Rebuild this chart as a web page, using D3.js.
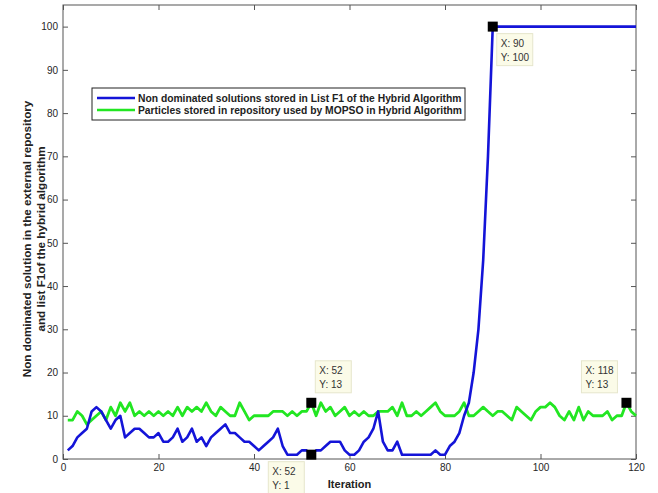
<!DOCTYPE html>
<html>
<head>
<meta charset="utf-8">
<script src="https://cdn.jsdelivr.net/npm/d3@7"></script>
<style>
  body { margin: 0; background: #fff; }
  svg { font-family: "Liberation Sans", Arial, sans-serif; }
  .axis text { font-size: 10px; fill: #262626; }
  .axis line, .axis path { stroke: #555; }
</style>
</head>
<body>
<svg id="chart"></svg>
<script>
// iteration numbers
const iterations = d3.range(1, 121);

// Non dominated solutions stored in List F1
const hybridF1 = [
  2, 3, 5, 6, 7, 11, 12, 11, 9, 7,
  9, 10, 5, 6, 7, 7, 6, 5, 5, 6,
  4, 4, 5, 7, 4, 5, 7, 4, 5, 3,
  5, 6, 7, 8, 6, 6, 5, 4, 4, 3,
  2, 3, 4, 5, 7, 3, 1, 1, 1, 2,
  2, 1, 2, 2, 3, 4, 4, 4, 2, 1,
  1, 2, 4, 5, 7, 11, 4, 2, 2, 4,
  1, 1, 1, 1, 1, 1, 1, 2, 1, 1,
  3, 4, 6, 10, 13, 20, 30, 46, 70, 100,
  100, 100, 100, 100, 100, 100, 100, 100, 100, 100,
  100, 100, 100, 100, 100, 100, 100, 100, 100, 100,
  100, 100, 100, 100, 100, 100, 100, 100, 100, 100
];

// Particles stored in repository used by MOPSO
const mopsoRepo = [
  9, 9, 11, 10, 8, 9, 10, 11, 9, 12,
  10, 13, 11, 13, 10, 11, 10, 11, 10, 11,
  10, 11, 10, 12, 10, 12, 11, 12, 11, 13,
  11, 10, 12, 11, 10, 10, 13, 11, 9, 10,
  10, 10, 10, 11, 11, 11, 10, 11, 10, 11,
  11, 13, 10, 13, 11, 12, 10, 11, 12, 10,
  11, 10, 11, 10, 10, 11, 11, 11, 12, 10,
  13, 10, 10, 11, 10, 11, 12, 13, 11, 10,
  10, 10, 11, 13, 10, 10, 11, 12, 11, 10,
  11, 11, 10, 9, 12, 11, 10, 9, 11, 12,
  12, 13, 12, 10, 9, 11, 9, 12, 9, 11,
  10, 10, 10, 11, 9, 10, 10, 13, 11, 10
];

const xTicks = [0, 20, 40, 60, 80, 100, 120];
const yTicks = [0, 10, 20, 30, 40, 50, 60, 70, 80, 90, 100];

const seriesNames = [
  'Non dominated solutions stored in List F1 of the Hybrid Algorithm',
  'Particles stored in repository used by MOPSO in Hybrid Algorithm'
];

// data tips: [x, y, placement]
const dataTips = [
  [52, 13, 'above-right'],
  [52, 1, 'below-left'],
  [90, 100, 'below-right'],
  [118, 13, 'above-left']
];

const W = 658, H = 493;
const margin = { top: 5, right: 22, bottom: 34, left: 63 };

const svg = d3.select('#chart')
    .attr('width', W)
    .attr('height', H);

const x = d3.scaleLinear()
    .domain([0, 120])
    .range([margin.left, W - margin.right]);

const y = d3.scaleLinear()
    .domain([0, 105])
    .range([H - margin.bottom, margin.top]);

// axes box
svg.append('rect')
    .attr('x', x(0))
    .attr('y', y(105))
    .attr('width', x(120) - x(0))
    .attr('height', y(0) - y(105))
    .attr('fill', '#fff')
    .attr('stroke', '#555')
    .attr('stroke-width', 1);

// bottom / left axes with inward ticks
svg.append('g')
    .attr('class', 'axis')
    .attr('transform', `translate(0,${y(0)})`)
    .call(d3.axisBottom(x).tickValues(xTicks).tickSize(-5).tickSizeOuter(0).tickPadding(5))
    .call(g => g.select('.domain').remove());

svg.append('g')
    .attr('class', 'axis')
    .attr('transform', `translate(${x(0)},0)`)
    .call(d3.axisLeft(y).tickValues(yTicks).tickSize(-5).tickSizeOuter(0).tickPadding(5))
    .call(g => g.select('.domain').remove());

// top / right ticks, no labels
svg.append('g')
    .attr('class', 'axis')
    .attr('transform', `translate(0,${y(105)})`)
    .call(d3.axisTop(x).tickValues(xTicks).tickSize(-5).tickSizeOuter(0).tickFormat(''))
    .call(g => g.select('.domain').remove());

svg.append('g')
    .attr('class', 'axis')
    .attr('transform', `translate(${x(120)},0)`)
    .call(d3.axisRight(y).tickValues(yTicks).tickSize(-5).tickSizeOuter(0).tickFormat(''))
    .call(g => g.select('.domain').remove());

// lines
const line = d3.line()
    .x((d, i) => x(iterations[i]))
    .y(d => y(d));

svg.append('path')
    .datum(mopsoRepo)
    .attr('fill', 'none')
    .attr('stroke', '#22e622')
    .attr('stroke-width', 2.8)
    .attr('stroke-linejoin', 'round')
    .attr('d', line);

svg.append('path')
    .datum(hybridF1)
    .attr('fill', 'none')
    .attr('stroke', '#1414d8')
    .attr('stroke-width', 2.6)
    .attr('stroke-linejoin', 'round')
    .attr('d', line);

// axis titles
svg.append('text')
    .attr('x', (x(0) + x(120)) / 2)
    .attr('y', 488)
    .attr('text-anchor', 'middle')
    .attr('font-size', 11)
    .attr('font-weight', 'bold')
    .attr('fill', '#222')
    .text('Iteration');

const yTitle = svg.append('text')
    .attr('transform', 'translate(0,239) rotate(-90)')
    .attr('text-anchor', 'middle')
    .attr('font-size', 11.7)
    .attr('font-weight', 'bold')
    .attr('fill', '#222');
yTitle.append('tspan').attr('x', 0).attr('y', 31).text('Non dominated solution in the external repository');
yTitle.append('tspan').attr('x', 0).attr('y', 45).text('and list F1of the hybrid algorithm');

// legend
const legend = svg.append('g').attr('transform', 'translate(92,88)');
legend.append('rect')
    .attr('width', 373)
    .attr('height', 32)
    .attr('fill', '#fff')
    .attr('stroke', '#222')
    .attr('stroke-width', 1);
const legendColors = ['#1414d8', '#22e622'];
seriesNames.forEach((name, i) => {
    const row = legend.append('g').attr('transform', `translate(0,${10 + i * 12})`);
    row.append('line')
        .attr('x1', 5).attr('x2', 43)
        .attr('stroke', legendColors[i])
        .attr('stroke-width', 2.6);
    row.append('text')
        .attr('x', 46)
        .attr('y', 3.5)
        .attr('font-size', 10.3)
        .attr('font-weight', 'bold')
        .attr('fill', '#222')
        .text(name);
});

// data tips
const tipW = 36, tipH = 32;
dataTips.forEach(([tx, ty, place]) => {
    const px = x(tx), py = y(ty);
    let bx, by;
    if (place === 'above-right') { bx = px + 4; by = py - 10 - tipH; }
    else if (place === 'below-left') { bx = px - 7 - tipW; by = py + 7; }
    else if (place === 'below-right') { bx = px + 4; by = py + 7; }
    else { bx = px - 9 - tipW; by = py - 10 - tipH; }
    const g = svg.append('g');
    g.append('rect')
        .attr('x', bx).attr('y', by)
        .attr('width', tipW).attr('height', tipH)
        .attr('fill', '#fbfbe8')
        .attr('stroke', '#e6e6cc')
        .attr('stroke-width', 1);
    g.append('text')
        .attr('x', bx + 4).attr('y', by + 13)
        .attr('font-size', 10)
        .attr('fill', '#333')
        .text(`X: ${tx}`);
    g.append('text')
        .attr('x', bx + 4).attr('y', by + 27)
        .attr('font-size', 10)
        .attr('fill', '#333')
        .text(`Y: ${ty}`);
    g.append('rect')
        .attr('x', px - 5).attr('y', py - 5)
        .attr('width', 10).attr('height', 10)
        .attr('fill', '#000');
});
</script>
</body>
</html>
